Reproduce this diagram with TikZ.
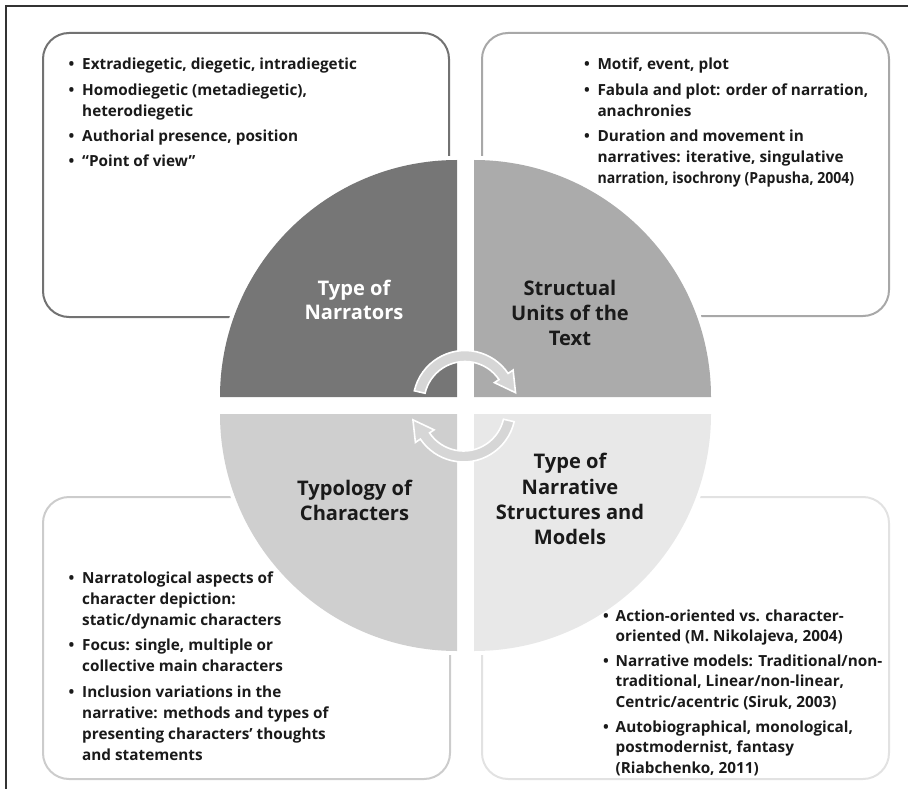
\documentclass[tikz,border=0pt]{standalone}
\usepackage{graphicx}
\usepackage{fontspec}
\newfontfamily\bfnt{Open Sans}
\newcommand\txtf{\bfnt\bfseries}
\definecolor{qdark}{HTML}{767676}
\definecolor{qmid}{HTML}{ABABAB}
\definecolor{qlight}{HTML}{CFCFCF}
\definecolor{qpale}{HTML}{E8E8E8}
\definecolor{bdark}{HTML}{727272}
\definecolor{bmid}{HTML}{A8A8A8}
\definecolor{blight}{HTML}{CCCCCC}
\definecolor{bpale}{HTML}{E2E2E2}
\definecolor{txt}{HTML}{1A1A1A}
\definecolor{arrowfill}{HTML}{D6D6D6}
\tikzset{
  infobox/.style={line width=2pt, rounded corners=26pt, fill=none},
  buffer/.style={fill=white, draw=none},
  body/.style={font=\txtf\fontsize{15.3}{18}\selectfont, text=txt, inner sep=0pt, anchor=base west},
  bul/.style={font=\txtf\fontsize{15.3}{18}\selectfont, text=txt, inner sep=0pt, anchor=base west},
  title/.style={font=\txtf\fontsize{20.1}{24}\selectfont, text=txt, inner sep=0pt, anchor=base},
  band/.style={fill=arrowfill, draw=white, line width=1.6pt, line join=miter}
}
\begin{document}
\begin{tikzpicture}[x=1pt,y=-1pt]
\useasboundingbox (0,0) rectangle (908,789);
% frame lines (top and left)
\coordinate (fa) at (6,789);
\coordinate (fb) at (6,6);
\coordinate (fc) at (908,6);
\draw[line width=1.4pt, black!80] (fa) -- (fb) -- (fc);

% boxes
\draw[infobox, draw=bdark] (43,33) rectangle (449,317);
\draw[infobox, draw=bmid] (482,33) rectangle (889,316);
\draw[infobox, draw=blight] (43,497) rectangle (450,779);
\draw[infobox, draw=bpale] (482,497) rectangle (889,779);

% white buffers around quadrants
\fill[buffer] (457,397) -- ++(180:241) arc[start angle=180, end angle=270, radius=241] -- cycle;
\fill[buffer] (474,397) -- ++(270:241) arc[start angle=270, end angle=360, radius=241] -- cycle;
\fill[buffer] (474,414) -- ++(0:241) arc[start angle=0, end angle=90, radius=241] -- cycle;
\fill[buffer] (457,414) -- ++(90:241) arc[start angle=90, end angle=180, radius=241] -- cycle;

% quadrants
\fill[qdark] (457,397) -- ++(180:237) arc[start angle=180, end angle=270, radius=237] -- cycle;
\fill[qmid] (474,397) -- ++(270:237) arc[start angle=270, end angle=360, radius=237] -- cycle;
\fill[qpale] (474,414) -- ++(0:237) arc[start angle=0, end angle=90, radius=237] -- cycle;
\fill[qlight] (457,414) -- ++(90:237) arc[start angle=90, end angle=180, radius=237] -- cycle;

% circular arrows
\begin{scope}[shift={(465,402.5)}, yscale=-1]
\path[band] (167:41) -- (167:52) arc[start angle=167, end angle=34, radius=52]
  -- (34:58) -- (11:51.5) -- (34:35.5) -- (34:41)
  arc[start angle=34, end angle=167, radius=41] -- cycle;
\end{scope}
\begin{scope}[shift={(463.5,410)}, yscale=-1, rotate=180]
\path[band] (167:41) -- (167:52) arc[start angle=167, end angle=34, radius=52]
  -- (34:58) -- (11:51.5) -- (34:35.5) -- (34:41)
  arc[start angle=34, end angle=167, radius=41] -- cycle;
\end{scope}

% titles
\node[title, text=white] (tla) at (354,295) {Type of};
\node[title, text=white] (tlb) at (354,319.5) {Narrators};
\node[title] (tra) at (570,295) {Structual};
\node[title] (trb) at (570,320.5) {Units of the};
\node[title] (trc) at (570,345.5) {Text};
\node[title] (bla) at (354.5,495) {Typology of};
\node[title] (blb) at (354.5,520.5) {Characters};
\node[title] (bra) at (570,468) {Type of};
\node[title] (brb) at (570,494) {Narrative};
\node[title] (brc) at (570,519) {Structures and};
\node[title] (brd) at (570,544) {Models};

% top-left list
\node[bul] (tl1b) at (68.5,70) {•};
\node[body] (tl1) at (82,70) {Extradiegetic, diegetic, intradiegetic};
\node[bul] (tl2b) at (68.5,95.5) {•};
\node[body] (tl2) at (82,95.5) {Homodiegetic (metadiegetic),};
\node[body] (tl2c) at (82,116.5) {heterodiegetic};
\node[bul] (tl3b) at (68.5,142) {•};
\node[body] (tl3) at (82,142) {Authorial presence, position};
\node[bul] (tl4b) at (68.5,167) {•};
\node[body] (tl4) at (82,167) {“Point of view”};

% top-right list
\node[bul] (tr1b) at (584,70) {•};
\node[body] (tr1) at (597.3,70) {Motif, event, plot};
\node[bul] (tr2b) at (584,95.5) {•};
\node[body] (tr2) at (597.3,95.5) {Fabula and plot: order of narration,};
\node[body] (tr2c) at (597.3,116.5) {anachronies};
\node[bul] (tr3b) at (584,142) {•};
\node[body] (tr3) at (597.3,142) {Duration and movement in};
\node[body] (tr3c) at (597.3,163) {narratives: iterative, singulative};
\node[body] (tr3d) at (597.3,184) {\scalebox{0.92}[1]{narration, isochrony (Papusha, 2004)}};

% bottom-left list
\node[bul] (bl1b) at (68.5,583) {•};
\node[body] (bl1) at (82,583) {Narratological aspects of};
\node[body] (bl1c) at (82,604) {character depiction:};
\node[body] (bl1d) at (82,625) {static/dynamic characters};
\node[bul] (bl2b) at (68.5,650.5) {•};
\node[body] (bl2) at (82,650.5) {Focus: single, multiple or};
\node[body] (bl2c) at (82,671.5) {collective main characters};
\node[bul] (bl3b) at (68.5,697) {•};
\node[body] (bl3) at (82,697) {Inclusion variations in the};
\node[body] (bl3c) at (82,718) {narrative: methods and types of};
\node[body] (bl3d) at (82,739) {presenting characters’ thoughts};
\node[body] (bl3e) at (82,760) {and statements};

% bottom-right list
\node[bul] (br1b) at (603,621) {•};
\node[body] (br1) at (615.5,621) {Action-oriented vs. character-};
\node[body] (br1c) at (615.5,641.5) {oriented (M. Nikolajeva, 2004)};
\node[bul] (br2b) at (603,666) {•};
\node[body] (br2) at (615.5,666) {Narrative models: Traditional/non-};
\node[body] (br2c) at (615.5,686.5) {traditional, Linear/non-linear,};
\node[body] (br2d) at (615.5,707) {Centric/acentric (Siruk, 2003)};
\node[bul] (br3b) at (603,732) {•};
\node[body] (br3) at (615.5,732) {Autobiographical, monological,};
\node[body] (br3c) at (615.5,752.5) {postmodernist, fantasy};
\node[body] (br3d) at (615.5,773) {(Riabchenko, 2011)};
\end{tikzpicture}
\end{document}
